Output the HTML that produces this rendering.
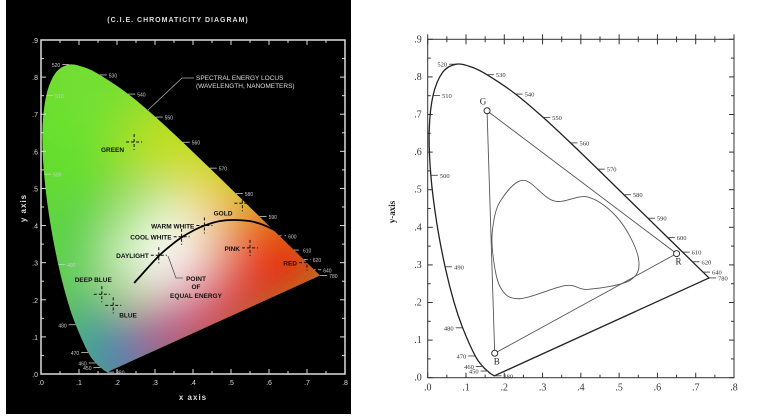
<!DOCTYPE html>
<html><head><meta charset="utf-8"><style>
body{margin:0;background:#fff;width:758px;height:419px;overflow:hidden}
svg{display:block}
</style></head><body>
<svg id="c" width="758" height="419" xmlns="http://www.w3.org/2000/svg">
<defs>
<filter id="blur" x="-50%" y="-50%" width="200%" height="200%"><feGaussianBlur stdDeviation="28"/></filter>
<clipPath id="locClip"><path id="clipPath1"/></clipPath>
</defs>
<rect x="6" y="0" width="345" height="414" fill="#000"/>
</svg>
<script>
const wl=[380,440,450,460,470,480,485,490,495,500,505,510,515,520,525,530,540,550,560,570,580,590,600,610,620,640,780];
const locusX=[.1741,.1644,.1566,.1440,.1241,.0913,.0687,.0454,.0235,.0082,.0039,.0139,.0389,.0743,.1142,.1547,.2296,.3016,.3731,.4441,.5125,.5752,.6270,.6658,.6915,.7190,.7347];
const locusY=[.0050,.0109,.0177,.0297,.0578,.1327,.2007,.2950,.4127,.5384,.6548,.7502,.8120,.8338,.8262,.8059,.7543,.6923,.6245,.5547,.4866,.4242,.3725,.3340,.3083,.2809,.2653];
const labeledWl=[380,450,460,470,480,490,500,510,520,530,540,550,560,570,580,590,600,610,620,640,780];
const tickVals=[0,.1,.2,.3,.4,.5,.6,.7,.8,.9];
const tickLabels=[".0",".1",".2",".3",".4",".5",".6",".7",".8",".9"];
const planckX=[.245,.28,.31,.34,.37,.40,.43,.47,.51,.56,.61,.66,.70,.73];
const planckY=[.245,.285,.318,.345,.368,.386,.400,.412,.415,.410,.390,.355,.315,.275];
const markerNames=["GREEN","GOLD","WARM WHITE","COOL WHITE","DAYLIGHT","PINK","RED","DEEP BLUE","BLUE"];
const markerX=[.245,.53,.43,.37,.31,.55,.70,.16,.19];
const markerY=[.625,.46,.40,.37,.32,.34,.30,.215,.185];
const gamutNames=["G","R","B"];
const gamutX=[.155,.65,.175];
const gamutY=[.71,.33,.065];
const blobX=[.17,.19,.25,.33,.42,.50,.55,.53,.42,.36,.24,.19,.17];
const blobY=[.40,.47,.525,.47,.48,.42,.32,.26,.235,.245,.21,.24,.33];

const svg=document.getElementById('c');
const NS='http://www.w3.org/2000/svg';
function mk(t,a,p){const e=document.createElementNS(NS,t);for(const k in a)e.setAttribute(k,a[k]);(p||svg).appendChild(e);return e;}
function axes(x0,x1,y0,y1){return {sx:v=>x0+v*(x1-x0)/0.8, sy:v=>y0-v*(y0-y1)/0.9};}
const L=axes(41,345,374,40), R=axes(427.7,734,377.7,39.3);
function smooth(pts,closed){
  let n=pts.length,d='M'+pts[0][0]+','+pts[0][1];
  const g=i=>closed?pts[(i+n)%n]:pts[Math.max(0,Math.min(n-1,i))];
  const m=closed?n:n-1;
  for(let i=0;i<m;i++){const p0=g(i-1),p1=g(i),p2=g(i+1),p3=g(i+2);
    d+=` C${p1[0]+(p2[0]-p0[0])/6},${p1[1]+(p2[1]-p0[1])/6} ${p2[0]-(p3[0]-p1[0])/6},${p2[1]-(p3[1]-p1[1])/6} ${p2[0]},${p2[1]}`;}
  return d+(closed?'Z':'');
}
function locusPath(A){const p=locusX.map((x,i)=>[A.sx(x),A.sy(locusY[i])]);return smooth(p,false)+'Z';}

// LEFT PANEL
document.getElementById('clipPath1').setAttribute('d',locusPath(L));
const cg=mk('g',{'clip-path':'url(#locClip)'});


mk('path',{d:locusPath(L),fill:'#7ad23a'},cg);
const bg=mk('g',{filter:'url(#blur)'},cg);
[[.05,.65,70,'#5ee02a'],[.15,.75,60,'#72e030'],[.35,.6,50,'#c8e020'],[.48,.48,40,'#f0d020'],[.6,.36,45,'#f05010'],[.68,.29,40,'#ee2010'],[.47,.2,50,'#e02828'],[.35,.12,40,'#c03080'],[.2,.03,35,'#3050e0'],[.12,.12,35,'#30a0a0'],[.33,.34,45,'#ffffff'],[.28,.3,35,'#ffffff'],[.07,.35,40,'#50d050']].forEach(c=>mk('circle',{cx:L.sx(c[0]),cy:L.sy(c[1]),r:c[2],fill:c[3]},bg));
function frame(A,col,isL){
  const x0=A.sx(0),x1=A.sx(.8),y0=A.sy(0),y1=A.sy(.9);
  const f=mk('rect',{x:x0,y:y1,width:x1-x0,height:y0-y1,fill:'none',stroke:col,'stroke-width':isL?1.5:1});
  
  
  for(let v=0;v<=0.9001;v+=0.05){const maj=Math.round(v*20)%2==0,len=maj?5:3;
    if(v<=0.8001){const x=A.sx(v);mk('line',{x1:x,y1:y0,x2:x,y2:y0-len,stroke:col});mk('line',{x1:x,y1:y1,x2:x,y2:y1+len,stroke:col});mk('line',{x1:x,y1:y1,x2:x,y2:y1-(isL?0:len),stroke:col});}
    const y=A.sy(v);mk('line',{x1:x0,y1:y,x2:x0+len,y2:y,stroke:col});mk('line',{x1:x1,y1:y,x2:x1-len,y2:y,stroke:col});}
  tickVals.forEach((v,i)=>{
    if(v<=0.8001){const t=mk('text',{x:A.sx(v),y:y0+(isL?11:13),'text-anchor':'middle',fill:col,'font-size':isL?7:10,'font-family':isL?'Liberation Sans,sans-serif':'Liberation Serif,serif'});t.textContent=tickLabels[i];
      }
    const t2=mk('text',{x:x0-(isL?3:6),y:A.sy(v)+3,'text-anchor':'end',fill:col,'font-size':isL?7:10,'font-family':isL?'Liberation Sans,sans-serif':'Liberation Serif,serif'});t2.textContent=tickLabels[i];
    
  });
}
frame(L,'#ddd',true);
function wlLabels(A,col,fs,font){
  labeledWl.forEach(w=>{const i=wl.indexOf(w);const x=A.sx(locusX[i]),y=A.sy(locusY[i]);
    const right=!(w>=450&&w<=480)&&w!==520;
    const dx=right?1:-1;
    mk('line',{x1:x,y1:y,x2:x+dx*7,y2:y,stroke:col,'stroke-width':0.8});
    const t=mk('text',{x:x+dx*9,y:y+2.5,'text-anchor':right?'start':'end',fill:col,'font-size':fs,'font-family':font});
    t.textContent=w;});
}
wlLabels(L,'#ccc',5,'Liberation Sans,sans-serif');
const pl=mk('path',{d:smooth(planckX.map((x,i)=>[L.sx(x),L.sy(planckY[i])]),false),fill:'none',stroke:'#000','stroke-width':1.8});

markerNames.forEach((n,i)=>{const x=L.sx(markerX[i]),y=L.sy(markerY[i]);
  const g=mk('g',{});
  mk('line',{x1:x-8,y1:y,x2:x+8,y2:y,stroke:'#111','stroke-dasharray':'3 2'},g);
  mk('line',{x1:x,y1:y-8,x2:x,y2:y+8,stroke:'#111','stroke-dasharray':'3 2'},g);
  const left=!(n=='BLUE');const red=n=='RED';
  const t=mk('text',{x:n=='BLUE'?x+6:x-10,y:n=='DEEP BLUE'?y-12:(n=='BLUE'?y+12:(n=='GREEN'?y+10:(n=='GOLD'?y+12:y+3))),'text-anchor':n=='BLUE'?'start':'end','font-size':6.5,'font-weight':'bold','font-family':'Liberation Sans,sans-serif',fill:red?'#300':'#111'},g);
  if(n=='DEEP BLUE'){t.setAttribute('x',x+10);}
  t.textContent=n;});
function txt(x,y,s,a){const t=mk('text',Object.assign({x:x,y:y,'font-family':'Liberation Sans,sans-serif'},a));t.textContent=s;return t;}
let t;
t=txt(178,22,'(C.I.E. CHROMATICITY  DIAGRAM)',{'text-anchor':'middle',fill:'#ddd','font-size':7,'font-weight':'bold','letter-spacing':'1'});
t=txt(196,80,'SPECTRAL ENERGY LOCUS',{fill:'#ddd','font-size':6.5});
t=txt(196,88,'(WAVELENGTH, NANOMETERS)',{fill:'#ddd','font-size':6.5});
mk('polyline',{points:'194,78 182,78 148,110',fill:'none',stroke:'#aaa','stroke-width':0.8});
t=txt(196,281,'POINT',{'text-anchor':'middle',fill:'#111','font-size':6.5,'font-weight':'bold'});
t=txt(196,289,'OF',{'text-anchor':'middle',fill:'#111','font-size':6.5,'font-weight':'bold'});
t=txt(196,298,'EQUAL  ENERGY',{'text-anchor':'middle',fill:'#111','font-size':6.5,'font-weight':'bold'});
mk('polyline',{points:'168,256 176,278 183,278',fill:'none',stroke:'#555','stroke-width':0.8});
t=txt(193,400,'x axis',{'text-anchor':'middle',fill:'#ddd','font-size':8,'font-weight':'bold','letter-spacing':'1'});
t=txt(26,208,'y axis',{'text-anchor':'middle',fill:'#ddd','font-size':8,'font-weight':'bold','letter-spacing':'1',transform:'rotate(-90 26 208)'});

// RIGHT PANEL
frame(R,'#333',false);
const rl=mk('path',{d:locusPath(R),fill:'none',stroke:'#222','stroke-width':1.3});

wlLabels(R,'#333',6.5,'Liberation Serif,serif');
const tri=mk('polygon',{points:gamutX.map((x,i)=>R.sx(x)+','+R.sy(gamutY[i])).join(' '),fill:'none',stroke:'#555','stroke-width':0.9});

const blob=mk('path',{d:smooth(blobX.map((x,i)=>[R.sx(x),R.sy(blobY[i])]),true),fill:'none',stroke:'#555','stroke-width':0.9});

gamutNames.forEach((n,i)=>{const x=R.sx(gamutX[i]),y=R.sy(gamutY[i]);
  const c=mk('circle',{cx:x,cy:y,r:3,fill:'#fff',stroke:'#333'});
  const tt=mk('text',{x:n=='G'?x-4:x+2,y:n=='G'?y-6:y+11,'text-anchor':'middle','font-size':9,'font-family':'Liberation Serif,serif',fill:'#222'});tt.textContent=n;
  });
t=txt(395,212,'y-axis',{'text-anchor':'middle',fill:'#222','font-size':9,'font-weight':'bold','font-family':'Liberation Serif,serif',transform:'rotate(-90 395 212)'});
</script>
</body></html>
